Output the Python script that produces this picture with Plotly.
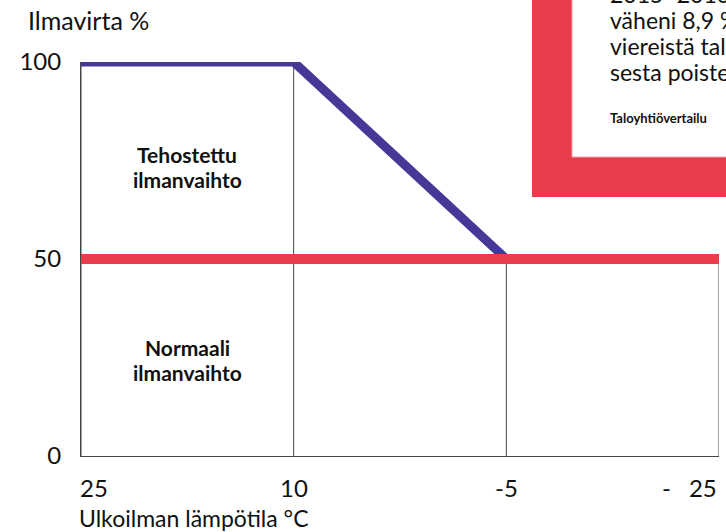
import plotly.graph_objects as go

# ---- data ----
temps = ["25", "10", "-5", "-25"]              # outdoor temperature categories
x_tick_labels = ["25", "10", "-5", "-\u200325"]
boost_airflow = [100, 100, 50, None]             # purple: boosted ventilation
normal_airflow = [50, 50, 50, 50]                # red: normal ventilation
drop_heights = [100, 100, 50, 50]                # vertical guide lines
y_ticks = [0, 50, 100]
region_labels = [["Tehostettu", "ilmanvaihto"], ["Normaali", "ilmanvaihto"]]
region_y = [[154, 179], [347, 372]]             # pixel rows of label lines
box_lines = ["2015–2016 kulutus", "väheni 8,9 % verrattuna", "viereistä taloyhtiöitä",
             "sesta poistettu"]
box_source = "Taloyhtiövertailu"

PURPLE = "#463897"
RED = "#e93c4d"
FONT = "Lato"

fig = go.Figure()

# vertical drop lines built from data
dx, dy = [], []
for t, h in zip(temps, drop_heights):
    dx += [t, t, None]
    dy += [0, h, None]
fig.add_trace(go.Scatter(x=dx, y=dy, mode="lines",
                         line=dict(color="#444444", width=1), hoverinfo="skip",
                         showlegend=False))

fig.add_trace(go.Scatter(x=temps[:3], y=boost_airflow[:3], mode="lines",
                         line=dict(color=PURPLE, width=9), showlegend=False))
fig.add_trace(go.Scatter(x=temps, y=normal_airflow, mode="lines",
                         line=dict(color=RED, width=10), showlegend=False))

W, H = 726, 532
L, R, T, B = 81, 7, 62, 76
pw, ph = W - L - R, H - T - B

def px(x):
    return (x - L) / pw

def py(y):
    return (H - B - y) / ph

annotations = []
# x tick labels (category index positions)
anchors = ["left", "center", "center", "right"]
shifts = [-3, 0, 0, 0]
for i, (lab, a, s) in enumerate(zip(x_tick_labels, anchors, shifts)):
    annotations.append(dict(x=i, y=py(487), xref="x", yref="paper", text=lab, showarrow=False,
                            xanchor=a, yanchor="middle", xshift=s,
                            font=dict(family=FONT, size=24, color="#111")))
# region labels
for lines, ys in zip(region_labels, region_y):
    for txt, yy in zip(lines, ys):
        annotations.append(dict(x=0.5, y=py(yy), xref="x", yref="paper", text="<b>" + txt + "</b>",
                                showarrow=False, align="center", yanchor="middle",
                                font=dict(family=FONT, size=21, color="#111")))
# axis titles
annotations.append(dict(x=px(26), y=py(20), xref="paper", yref="paper", text="Ilmavirta %",
                        showarrow=False, xanchor="left", yanchor="middle",
                        font=dict(family=FONT, size=25, color="#111")))
annotations.append(dict(x=px(77), y=py(518), xref="paper", yref="paper",
                        text="Ulkoilman lämpötila °C",
                        showarrow=False, xanchor="left", yanchor="middle",
                        font=dict(family=FONT, size=23, color="#111")))

# red info box text
line_y = [-6, 20, 46, 72]
for txt, yy in zip(box_lines, line_y):
    annotations.append(dict(x=px(608), y=py(yy), xref="paper", yref="paper", text=txt,
                            showarrow=False, xanchor="left", yanchor="middle",
                            font=dict(family=FONT, size=23, color="#111")))
annotations.append(dict(x=px(608), y=py(118), xref="paper", yref="paper",
                        text="<b>" + box_source + "</b>",
                        showarrow=False, xanchor="left", yanchor="middle",
                        font=dict(family=FONT, size=13, color="#111")))

shapes = [
    dict(type="rect", xref="paper", yref="paper", x0=px(532), x1=px(740), y0=py(197), y1=py(-20),
         fillcolor=RED, line=dict(width=0), layer="above"),
    dict(type="rect", xref="paper", yref="paper", x0=px(572), x1=px(740), y0=py(157), y1=py(-20),
         fillcolor="white", line=dict(width=1, color="#f4a3aa"), layer="above"),
]

fig.update_layout(
    width=W, height=H, autosize=False,
    margin=dict(l=L, r=R, t=T, b=B),
    paper_bgcolor="white", plot_bgcolor="white",
    showlegend=False,
    annotations=annotations, shapes=shapes,
    xaxis=dict(type="category", categoryorder="array", categoryarray=temps,
               range=[0, len(temps) - 1], showticklabels=False, showgrid=False,
               zeroline=False, showline=True, linecolor="#444444", linewidth=1, ticks=""),
    yaxis=dict(range=[0, 100], tickvals=y_ticks, showgrid=False, zeroline=False,
               showline=True, linecolor="#444444", linewidth=1, ticks="",
               ticklabelstandoff=14,
               tickfont=dict(family=FONT, size=24, color="#111")),
)

fig.write_html("out.html", config={"displayModeBar": False},
               post_script="document.body.style.margin='0';")
